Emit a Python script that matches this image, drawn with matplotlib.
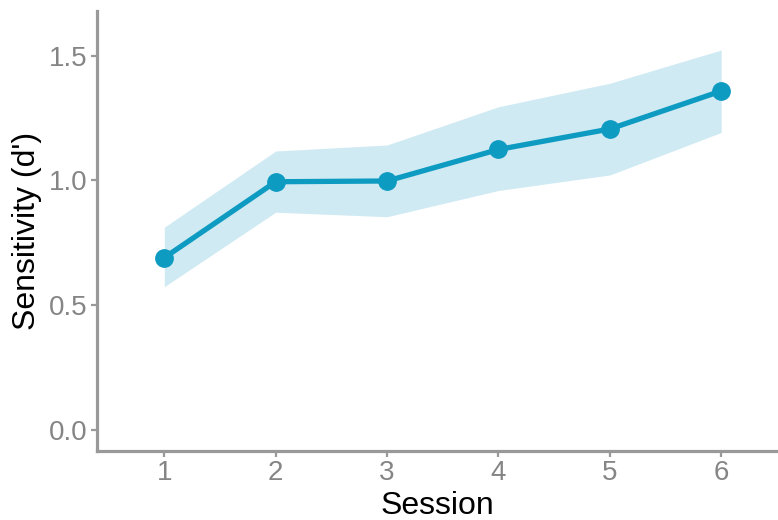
import matplotlib
matplotlib.use("Agg")
import matplotlib.pyplot as plt

plt.rcParams['font.family'] = ['Liberation Sans', 'DejaVu Sans']

session = [1, 2, 3, 4, 5, 6]
dprime = [0.691, 0.995, 0.998, 1.124, 1.206, 1.358]
ci_low = [0.575, 0.873, 0.855, 0.960, 1.022, 1.192]
ci_high = [0.813, 1.118, 1.142, 1.295, 1.389, 1.522]

line_col = '#0e9bc2'
band_col = '#d0eaf3'
axis_col = '#999999'
tick_col = '#858585'

fig = plt.figure(figsize=(7.78, 5.20), dpi=100)
ax = fig.add_axes([0.1253, 0.1333, 0.8747, 0.8455])

ax.fill_between(session, ci_low, ci_high, color=band_col, linewidth=0)
ax.plot(session, dprime, color=line_col, linewidth=3.8, marker='o',
        markersize=12.5, solid_capstyle='round')

ax.set_xlim(0.4, 6.51)
ax.set_ylim(-0.081, 1.678)
ax.set_xticks(session)
ax.set_yticks([0.0, 0.5, 1.0, 1.5])
ax.set_yticklabels(['0.0', '0.5', '1.0', '1.5'])

for side in ['top', 'right']:
    ax.spines[side].set_visible(False)
for side in ['left', 'bottom']:
    ax.spines[side].set_color(axis_col)
    ax.spines[side].set_linewidth(2.3)

ax.tick_params(axis='both', colors=axis_col, width=1.6, length=4,
               labelsize=20, labelcolor=tick_col, pad=3)

ax.set_xlabel('Session', fontsize=23, labelpad=3)
ax.set_ylabel("Sensitivity (d')", fontsize=23, labelpad=5)

fig.savefig('out.png', dpi=100)
